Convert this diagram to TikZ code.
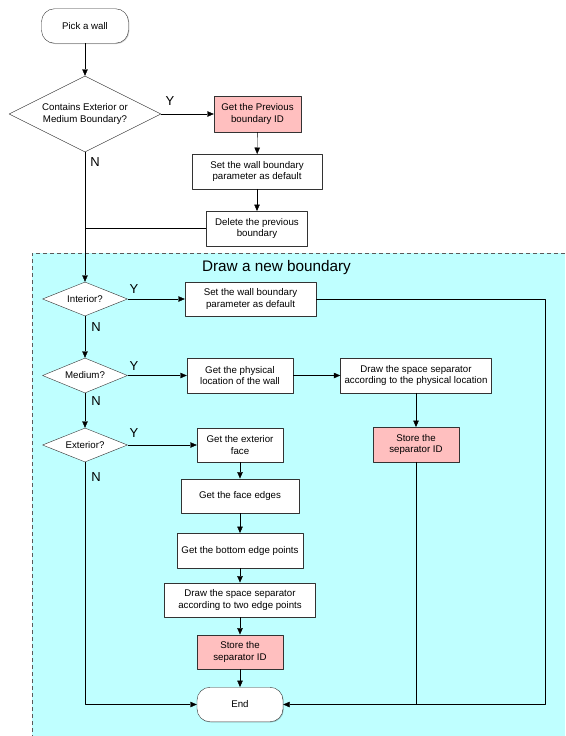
\documentclass[tikz,border=0pt]{standalone}
\usepackage{fontspec}
\setmainfont{Liberation Sans}
\usetikzlibrary{shapes.geometric,arrows.meta,shadows}
\definecolor{bgcyan}{HTML}{BFFFFF}
\definecolor{idpink}{HTML}{FFBFBF}
\definecolor{edgegray}{HTML}{333333}
\begin{document}
\begin{tikzpicture}[x=1pt,y=-1pt,line join=round,>={Triangle[length=6.5pt,width=5.5pt]},
	font=\fontsize{9.7}{11.4}\selectfont,
	every node/.style={inner sep=0pt},
	box/.style={draw=edgegray,fill=white,align=center,minimum height=34.5pt,
		drop shadow={shadow xshift=0.8pt,shadow yshift=-0.8pt,fill=black,opacity=0.2}},
	idbox/.style={box,fill=idpink},
	term/.style={box,rounded corners=13pt},
	test/.style={draw=edgegray,fill=white,diamond,aspect=2,align=center},
	yn/.style={font=\fontsize{13}{13}\selectfont}]
		\useasboundingbox (0,0) rectangle (565,736);
		% sub-process area
		\fill[bgcyan] (31.7,253.3) rectangle (565,736);
		\draw[gray!70!black,dashed,dash pattern=on 4pt off 3pt] (565,253.3) -- (31.7,253.3) -- (31.7,736);
		\node (title) at (276.5,268) {\fontsize{15.3}{15.3}\selectfont Draw a new boundary};
		% first check
		\node[term,minimum width=87pt] (pick) at (85,26) {Pick a wall};
		\node[test,minimum width=152pt,minimum height=76pt] (q0) at (85,114) {Contains Exterior or\\Medium Boundary?};
		\node[idbox,minimum width=87pt,minimum height=36pt] (getprev) at (257.5,114) {Get the Previous\\boundary ID};
		\node[box,minimum width=130pt] (setdef) at (257,171.5) {Set the wall boundary\\parameter as default};
		\node[box,minimum width=101pt] (delprev) at (257,228.5) {Delete the previous\\boundary};
		% boundary types
		\node[test,minimum width=85pt,minimum height=34pt] (qint) at (85,299) {Interior?};
		\node[test,minimum width=85pt,minimum height=35pt] (qmed) at (85,375.5) {Medium?};
		\node[test,minimum width=85pt,minimum height=34pt] (qext) at (85,445) {Exterior?};
		\node[box,minimum width=131pt] (intset) at (250.5,299) {Set the wall boundary\\parameter as default};
		\node[box,minimum width=106pt] (getloc) at (240,375.5) {Get the physical\\location of the wall};
		\node[box,minimum width=151pt] (drawloc) at (416,375.5) {Draw the space separator\\according to the physical location};
		\node[idbox,minimum width=86pt] (storeloc) at (416,444.5) {Store the\\separator ID};
		\node[box,minimum width=86pt] (getface) at (240,445) {Get the exterior\\face};
		\node[box,minimum width=118pt] (getedges) at (240,496) {Get the face edges};
		\node[box,minimum width=126pt] (getpts) at (240,550.5) {Get the bottom edge points};
		\node[box,minimum width=151pt] (drawpts) at (240,600) {Draw the space separator\\according to two edge points};
		\node[idbox,minimum width=86pt] (storepts) at (240,652) {Store the\\separator ID};
		\node[term,minimum width=86pt] (finish) at (240,704.5) {End};
		\coordinate (rc) at (545,704.5);
		% Y / N
		\node[yn] (y0) at (170,101) {Y};
		\node[yn] (n0) at (95,162) {N};
		\node[yn] (yint) at (134,289) {Y};
		\node[yn] (nint) at (96,327) {N};
		\node[yn] (ymed) at (134,366) {Y};
		\node[yn] (nmed) at (96,401) {N};
		\node[yn] (yext) at (134,433) {Y};
		\node[yn] (next) at (96,477) {N};
		% connectors
		\draw[->] (pick) -- (q0);
		\draw[->] (q0.east) -- (getprev.west);
		\draw[->] (getprev) -- (setdef);
		\draw[->] (setdef) -- (delprev);
		\draw (delprev.west) -- (delprev.west -| q0.south);
		\draw[->] (q0.south) -- (qint.north);
		\draw[->] (qint.east) -- (intset.west);
		\draw[->] (intset.east) -- (intset.east -| rc) -- (rc) -- (finish.east);
		\draw[->] (qint.south) -- (qmed.north);
		\draw[->] (qmed.east) -- (getloc.west);
		\draw[->] (getloc) -- (drawloc);
		\draw[->] (drawloc) -- (storeloc);
		\draw (storeloc.south) -- (storeloc.south |- finish.east);
		\draw[->] (qmed.south) -- (qext.north);
		\draw[->] (qext.east) -- (getface.west);
		\draw[->] (getface) -- (getedges);
		\draw[->] (getedges) -- (getpts);
		\draw[->] (getpts) -- (drawpts);
		\draw[->] (drawpts) -- (storepts);
		\draw[->] (storepts) -- (finish);
		\draw[->] (qext.south) |- (finish.west);
\end{tikzpicture}
\end{document}
